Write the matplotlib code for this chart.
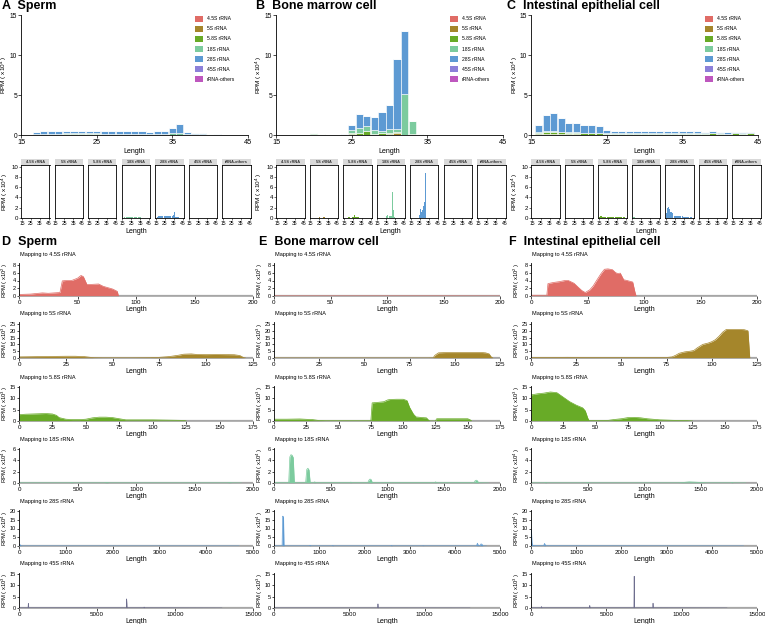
import matplotlib
matplotlib.use('Agg')
import matplotlib.pyplot as plt
from matplotlib.patches import Patch

plt.rcParams['font.family'] = ['Liberation Sans', 'DejaVu Sans']
plt.rcParams['mathtext.fontset'] = 'custom'
plt.rcParams['mathtext.rm'] = 'Liberation Sans'
plt.rcParams['mathtext.it'] = 'Liberation Sans:italic'
plt.rcParams['mathtext.bf'] = 'Liberation Sans:bold'

# ---------------- data ----------------
rna_types = ['4.5S rRNA', '5S rRNA', '5.8S rRNA', '18S rRNA', '28S rRNA', '45S rRNA', 'rRNA-others']
colors = ['#E06C66', '#A5862B', '#68AB27', '#7CCB9E', '#5D9AD3', '#8C80D9', '#BE57BE']
lengths = list(range(15, 46))
cells = ['Sperm', 'Bone marrow cell', 'Intestinal epithelial cell']

# lengths 15..45 (RPM x10^4)
sperm_4_5S = [0, 0, 0.01, 0.01, 0.01, 0.01, 0.01, 0.01, 0.01, 0.01, 0.01, 0.01, 0.01, 0.01, 0.01, 0.01, 0.01, 0.01, 0.01, 0.01, 0.01, 0.01, 0.01, 0.01, 0.01, 0.01, 0, 0, 0, 0, 0]
sperm_5S = [0, 0, 0.01, 0.01, 0.01, 0.01, 0.01, 0.01, 0.01, 0.01, 0.01, 0.01, 0.01, 0.01, 0.01, 0.01, 0.01, 0.01, 0.01, 0.01, 0.01, 0.01, 0.01, 0.01, 0.01, 0.01, 0, 0, 0, 0, 0]
sperm_5_8S = [0, 0, 0.04, 0.04, 0.04, 0.04, 0.05, 0.05, 0.05, 0.05, 0.05, 0.04, 0.04, 0.04, 0.04, 0.04, 0.04, 0.03, 0.04, 0.04, 0.04, 0.04, 0.03, 0.02, 0.02, 0.01, 0.01, 0, 0, 0, 0]
sperm_18S = [0, 0, 0.10, 0.10, 0.12, 0.12, 0.13, 0.13, 0.13, 0.13, 0.13, 0.12, 0.12, 0.11, 0.12, 0.12, 0.11, 0.07, 0.11, 0.12, 0.15, 0.20, 0.09, 0.07, 0.06, 0.04, 0.03, 0, 0, 0, 0]
sperm_28S = [0, 0, 0.25, 0.30, 0.33, 0.33, 0.36, 0.36, 0.36, 0.36, 0.36, 0.33, 0.33, 0.30, 0.33, 0.33, 0.30, 0.20, 0.30, 0.33, 0.65, 1.10, 0.22, 0.15, 0.12, 0.10, 0.06, 0, 0, 0, 0]
sperm_45S = [0] * 31
sperm_others = [0] * 31

bone_4_5S = [0] * 31
bone_5S = [0, 0, 0, 0, 0, 0.02, 0, 0, 0, 0, 0.10, 0.05, 0.05, 0, 0, 0.10, 0.20, 0, 0, 0, 0, 0, 0, 0, 0, 0, 0, 0, 0, 0, 0]
bone_5_8S = [0, 0, 0, 0, 0.05, 0.15, 0.10, 0.05, 0, 0, 0.20, 0.20, 0.50, 0.10, 0.20, 0.20, 0.20, 0, 0.10, 0, 0, 0, 0, 0, 0, 0, 0, 0, 0, 0, 0]
bone_18S = [0, 0, 0, 0, 0, 0.05, 0.05, 0, 0, 0.05, 0.30, 0.60, 0.60, 0.50, 0.30, 0.40, 0.40, 5.10, 1.60, 0.10, 0, 0, 0, 0, 0, 0, 0, 0, 0, 0, 0]
bone_28S = [0, 0, 0, 0, 0, 0.02, 0.02, 0, 0, 0.02, 0.60, 1.80, 1.20, 1.60, 2.40, 3.10, 8.70, 7.90, 0.10, 0.05, 0, 0, 0, 0, 0, 0, 0, 0, 0, 0, 0]
bone_45S = [0] * 31
bone_others = [0] * 31

int_4_5S = [0, 0.02, 0.02, 0.02, 0.02, 0.02, 0.02, 0.02, 0.02, 0.02, 0.01, 0.01, 0.01, 0.01, 0.01, 0.01, 0.01, 0.01, 0.01, 0.01, 0.01, 0.01, 0.01, 0.01, 0.01, 0.01, 0.01, 0.01, 0.01, 0.01, 0]
int_5S = [0, 0.05, 0.08, 0.08, 0.05, 0.05, 0.05, 0.04, 0.04, 0.04, 0.03, 0.03, 0.03, 0.03, 0.03, 0.03, 0.03, 0.03, 0.03, 0.03, 0.03, 0.03, 0.03, 0.03, 0.03, 0.03, 0.03, 0.03, 0.03, 0.03, 0]
int_5_8S = [0, 0.20, 0.30, 0.30, 0.25, 0.20, 0.20, 0.18, 0.18, 0.15, 0.12, 0.12, 0.12, 0.12, 0.12, 0.12, 0.12, 0.11, 0.12, 0.12, 0.12, 0.13, 0.13, 0.12, 0.15, 0.12, 0.11, 0.15, 0.13, 0.17, 0]
int_18S = [0, 0.10, 0.12, 0.12, 0.10, 0.08, 0.08, 0.06, 0.06, 0.05, 0.04, 0.04, 0.04, 0.04, 0.04, 0.04, 0.04, 0.04, 0.04, 0.04, 0.04, 0.04, 0.04, 0.04, 0.04, 0.03, 0.03, 0.03, 0.03, 0.03, 0]
int_28S = [0, 0.90, 2.00, 2.20, 1.70, 1.20, 1.20, 1.00, 0.90, 0.85, 0.40, 0.35, 0.35, 0.35, 0.32, 0.30, 0.30, 0.28, 0.30, 0.30, 0.27, 0.25, 0.25, 0.22, 0.22, 0.18, 0.15, 0.15, 0.12, 0.12, 0]
int_45S = [0] * 31
int_others = [0] * 31

sperm_series = [sperm_4_5S, sperm_5S, sperm_5_8S, sperm_18S, sperm_28S, sperm_45S, sperm_others]
bone_series = [bone_4_5S, bone_5S, bone_5_8S, bone_18S, bone_28S, bone_45S, bone_others]
int_series = [int_4_5S, int_5S, int_5_8S, int_18S, int_28S, int_45S, int_others]

# coverage along each rRNA (position, RPM)
D_45_pos = [0, 10, 20, 25, 30, 35, 37, 40, 45, 50, 53, 55, 58, 62, 68, 72, 80, 84, 85]
D_45_val = [0.4, 0.5, 0.8, 0.7, 0.8, 0.9, 3.9, 4.0, 4.0, 4.6, 5.3, 5.0, 3.0, 3.0, 3.1, 2.5, 1.8, 1.2, 0]
E_45_pos = [0, 50, 100, 150, 200]
E_45_val = [0.02, 0.02, 0.02, 0.02, 0]
F_45_pos = [0, 14, 15, 20, 25, 30, 33, 38, 42, 45, 48, 52, 55, 58, 62, 65, 68, 72, 75, 77, 79, 82, 85, 90, 92, 93]
F_45_val = [0.2, 0.2, 3.2, 3.5, 3.7, 4.0, 4.0, 3.3, 2.2, 1.4, 0.9, 1.6, 2.6, 4.0, 5.8, 6.9, 7.0, 6.8, 6.0, 5.8, 5.9, 4.2, 4.0, 3.6, 1.0, 0]

D_5S_pos = [0, 10, 20, 25, 30, 35, 40, 45, 60, 70, 75, 80, 85, 88, 92, 95, 100, 105, 110, 115, 118, 120, 121]
D_5S_val = [0.8, 1.0, 1.2, 1.3, 1.3, 1.0, 0.2, 0.1, 0.1, 0.2, 0.5, 1.0, 2.0, 2.8, 3.0, 2.6, 2.5, 2.6, 2.5, 2.4, 1.8, 0.3, 0]
E_5S_pos = [0, 85, 88, 89, 91, 95, 100, 110, 115, 117, 119, 120, 121]
E_5S_val = [0, 0, 0.1, 2.0, 3.8, 4.0, 4.0, 4.0, 4.0, 3.8, 3.0, 1.0, 0]
F_5S_pos = [0, 20, 40, 60, 75, 78, 80, 82, 85, 88, 90, 92, 95, 98, 100, 102, 104, 106, 108, 112, 116, 118, 120, 121]
F_5S_val = [0.3, 0.5, 0.3, 0.3, 0.4, 0.8, 2.0, 3.5, 4.5, 5.0, 5.5, 7.5, 10.0, 11.0, 12.0, 13.5, 16.0, 19.0, 21.0, 21.0, 21.0, 20.8, 20.0, 0]

D_58_pos = [0, 5, 10, 15, 20, 25, 28, 30, 35, 40, 45, 50, 55, 60, 65, 70, 75, 80, 90, 100, 110, 120, 124, 125]
D_58_val = [2.8, 3.0, 3.1, 3.2, 3.3, 3.1, 2.5, 1.5, 0.8, 0.6, 0.6, 0.8, 1.4, 1.7, 1.7, 1.5, 1.0, 0.5, 0.5, 0.5, 0.4, 0.3, 0.2, 0]
E_58_pos = [0, 10, 20, 30, 35, 40, 70, 75, 76, 80, 85, 88, 90, 95, 100, 103, 105, 108, 110, 115, 118, 120, 121, 125, 126, 140, 150, 152, 153]
E_58_val = [0.8, 0.8, 0.9, 0.6, 0.2, 0.1, 0.1, 0.1, 8.0, 8.2, 8.5, 9.3, 9.5, 9.6, 9.6, 9.0, 6.0, 3.0, 1.8, 1.5, 1.4, 0.2, 0, 0, 1.0, 1.0, 1.0, 0.5, 0]
F_58_pos = [0, 5, 10, 15, 20, 25, 30, 35, 40, 42, 44, 45, 50, 60, 65, 70, 75, 80, 85, 90, 100, 110, 120, 125]
F_58_val = [11.5, 12.0, 12.3, 12.8, 12.5, 10.5, 8.5, 7.0, 5.8, 4.5, 1.2, 0.2, 0.2, 0.3, 0.7, 1.0, 1.5, 1.6, 1.4, 1.0, 0.5, 0.3, 0.2, 0]

D_18_pos = [0, 430, 450, 470, 730, 750, 770, 1780, 1800, 1820, 1900]
D_18_val = [0.02, 0.02, 0.08, 0.02, 0.02, 0.10, 0.02, 0.02, 0.08, 0.02, 0]
E_18_pos = [0, 130, 140, 150, 160, 170, 180, 280, 290, 300, 310, 320, 350, 360, 370, 670, 680, 690, 830, 840, 850, 860, 870, 1420, 1430, 1440, 1770, 1780, 1790, 1800, 1810, 1900]
E_18_val = [0.05, 0.05, 4.6, 5.0, 4.9, 4.5, 0.05, 0.05, 2.4, 2.6, 2.3, 0.05, 0.05, 0.2, 0.05, 0.05, 0.15, 0.05, 0.05, 0.5, 0.7, 0.6, 0.05, 0.05, 0.2, 0.05, 0.05, 0.4, 0.5, 0.4, 0.05, 0]
F_18_pos = [0, 120, 130, 140, 490, 500, 510, 1300, 1350, 1400, 1450, 1500, 1550, 1770, 1780, 1790, 1900]
F_18_val = [0.02, 0.02, 0.10, 0.02, 0.02, 0.12, 0.02, 0.02, 0.10, 0.20, 0.15, 0.10, 0.02, 0.02, 0.12, 0.02, 0]

D_28_pos = [0, 10, 20, 40, 60, 100, 4700]
D_28_val = [0.5, 1.0, 0.8, 0.2, 0.05, 0.02, 0]
E_28_pos = [0, 180, 190, 200, 210, 220, 230, 780, 800, 820, 1280, 1300, 1320, 2580, 2600, 2620, 3280, 3300, 3320, 4480, 4500, 4520, 4560, 4580, 4600, 4620, 4700]
E_28_val = [0.05, 0.05, 17.0, 17.0, 16.5, 0.3, 0.05, 0.05, 0.4, 0.05, 0.05, 0.3, 0.05, 0.05, 0.3, 0.05, 0.05, 0.2, 0.05, 0.05, 1.6, 0.3, 0.3, 1.2, 1.0, 0.05, 0]
F_28_pos = [0, 5, 10, 20, 30, 50, 280, 300, 320, 4700]
F_28_val = [0.5, 9.0, 8.5, 2.0, 0.5, 0.2, 0.1, 1.5, 0.1, 0]

D_45S_pos = [0, 580, 600, 620, 6880, 6900, 6920, 8000, 8020, 8040, 13000]
D_45S_val = [0.1, 0.1, 2.0, 0.1, 0.1, 4.0, 0.1, 0.1, 0.4, 0.1, 0]
E_45S_pos = [0, 6880, 6900, 6920, 13000]
E_45S_val = [0.05, 0.05, 1.8, 0.05, 0]
F_45S_pos = [0, 680, 700, 720, 3880, 3900, 3920, 6830, 6850, 6870, 8080, 8100, 8120, 13000]
F_45S_val = [0.1, 0.1, 0.6, 0.1, 0.1, 1.1, 0.1, 0.1, 14.0, 0.1, 0.1, 2.1, 0.1, 0]

row_names = ['Mapping to 4.5S rRNA', 'Mapping to 5S rRNA', 'Mapping to 5.8S rRNA',
             'Mapping to 18S rRNA', 'Mapping to 28S rRNA', 'Mapping to 45S rRNA']
row_units = ['2', '3', '3', '4', '4', '3']
row_xmax = [200, 125, 175, 2000, 5000, 15000]
row_xticks = [[0, 50, 100, 150, 200], [0, 25, 50, 75, 100, 125], [0, 25, 50, 75, 100, 125, 150, 175],
              [0, 500, 1000, 1500, 2000], [0, 1000, 2000, 3000, 4000, 5000], [0, 5000, 10000, 15000]]
row_ymax = [8, 25, 15, 6, 20, 15]
row_yticks = [[0, 2, 4, 6, 8], [0, 5, 10, 15, 20, 25], [0, 5, 10, 15], [0, 2, 4, 6], [0, 5, 10, 15, 20], [0, 5, 10, 15]]
row_colors = ['#E06C66', '#A5862B', '#68AB27', '#7CCB9E', '#5D9AD3', '#6E6E8E']

cov_D = [(D_45_pos, D_45_val), (D_5S_pos, D_5S_val), (D_58_pos, D_58_val), (D_18_pos, D_18_val), (D_28_pos, D_28_val), (D_45S_pos, D_45S_val)]
cov_E = [(E_45_pos, E_45_val), (E_5S_pos, E_5S_val), (E_58_pos, E_58_val), (E_18_pos, E_18_val), (E_28_pos, E_28_val), (E_45S_pos, E_45S_val)]
cov_F = [(F_45_pos, F_45_val), (F_5S_pos, F_5S_val), (F_58_pos, F_58_val), (F_18_pos, F_18_val), (F_28_pos, F_28_val), (F_45S_pos, F_45S_val)]

# ---------------- layout ----------------
W, H = 765, 624
fig = plt.figure(figsize=(W / 100, H / 100), dpi=100)


def px_axes(l, t, r, b):
    return fig.add_axes([l / W, 1 - b / H, (r - l) / W, (b - t) / H])


def style(ax, fx=5.0, fy=5.0, ylen=2):
    for s in ['top', 'right']:
        ax.spines[s].set_visible(False)
    for s in ['left', 'bottom']:
        ax.spines[s].set_linewidth(0.6)
    ax.tick_params(length=2, width=0.5, pad=1)
    ax.tick_params(axis='x', labelsize=fx)
    ax.tick_params(axis='y', labelsize=fy, pad=0.8, length=ylen)


def ylabel_px(ax, text, offset_px, width_px, fs):
    ax.set_ylabel(text, fontsize=fs)
    ax.yaxis.set_label_coords(-offset_px / width_px, 0.5)


main_left = [21, 276, 531]
main_right = [248, 503, 758]
title_x = [2, 256, 507]
letters_top = ['A', 'B', 'C']
letters_bot = ['D', 'E', 'F']
series_all = [sperm_series, bone_series, int_series]

for c in range(3):
    # ---- main stacked bar chart ----
    ax = px_axes(main_left[c], 15, main_right[c], 135)
    bottom = [0.0] * len(lengths)
    for k in range(7):
        ax.bar(lengths, series_all[c][k], bottom=bottom, width=0.95, color=colors[k],
               edgecolor='white', linewidth=0.4)
        bottom = [b + v for b, v in zip(bottom, series_all[c][k])]
    ax.set_xlim(15, 45)
    ax.set_ylim(0, 15)
    ax.set_xticks([15, 25, 35, 45])
    ax.set_yticks([0, 5, 10, 15])
    style(ax, 5.2, 4.8)
    ax.set_xlabel('Length', fontsize=5, labelpad=1)
    ylabel_px(ax, r'RPM ( x10$^{4}$ )', 11.5, main_right[c] - main_left[c], 4.6)
    handles = [Patch(facecolor=colors[k], edgecolor='none', label=rna_types[k]) for k in range(7)]
    ax.legend(handles=handles, loc='upper left', bbox_to_anchor=(0.766, 0.995), frameon=False,
              fontsize=3.6, handlelength=1.6, handleheight=1.6, labelspacing=0.72,
              handletextpad=0.8, borderpad=0, borderaxespad=0)
    fig.text(title_x[c] / W, 1 - 6 / H, f'{letters_top[c]}  {cells[c]}', fontsize=9,
             fontweight='bold', va='center', ha='left')

    # ---- facets ----
    for k in range(7):
        l = main_left[c] + k * 33.5
        r = l + 28.5
        fa = px_axes(l, 165, r, 218)
        fa.bar(lengths, series_all[c][k], width=0.9, color=colors[k], linewidth=0)
        fa.set_xlim(14, 46)
        fa.set_ylim(0, 10.3)
        fa.set_xticks([15, 25, 35, 45])
        fa.set_yticks([0, 2, 4, 6, 8, 10])
        for s in fa.spines.values():
            s.set_linewidth(0.6)
        fa.tick_params(length=1.5, width=0.4, labelsize=3.6, pad=0.8)
        fa.tick_params(axis='y', labelsize=4.4, pad=0.6)
        if k > 0:
            fa.set_yticklabels([])
            fa.tick_params(axis='y', length=0)
        else:
            ylabel_px(fa, r'RPM ( x10$^{4}$ )', 11.5, 28.5, 4.6)
        if k == 3:
            fa.set_xlabel('Length', fontsize=5, labelpad=1)
        st = px_axes(l, 158.5, r, 164.5)
        st.set_facecolor('#D9D9D9')
        st.set_xticks([])
        st.set_yticks([])
        for s in st.spines.values():
            s.set_visible(False)
        st.text(0.5, 0.5, rna_types[k], fontsize=2.8, ha='center', va='center',
                transform=st.transAxes, fontweight='bold', color='#333333')

# ---------------- coverage rows ----------------
bot_left = [19, 274, 531]
bot_right = [253, 500, 757]
row_top = [265, 324, 387, 449, 511, 574]
row_bot = [296, 358, 421, 483, 546, 608]
covs = [cov_D, cov_E, cov_F]
title2_x = [2, 259, 509]

for c in range(3):
    fig.text(title2_x[c] / W, 1 - 242 / H, f'{letters_bot[c]}  {cells[c]}', fontsize=9,
             fontweight='bold', va='center', ha='left')
    for r in range(6):
        ax = px_axes(bot_left[c], row_top[r] - 1.5, bot_right[c], row_bot[r])
        pos, val = covs[c][r]
        ax.axhline(0, color='#A6A6A6', lw=1.6, zorder=1)
        ax.fill_between(pos, val, 0, color=row_colors[r], linewidth=0, zorder=2)
        ax.plot(pos, val, color=row_colors[r], lw=0.5, zorder=2)
        ax.set_xlim(0, row_xmax[r])
        ymax = row_ymax[r]
        ax.set_ylim(0, ymax * (1 + 1.5 / (row_bot[r] - row_top[r])))
        ax.set_xticks(row_xticks[r])
        ax.set_yticks(row_yticks[r])
        style(ax, 4.5, 4.1, 1.5)
        ax.spines['bottom'].set_color('#A6A6A6')
        ax.set_xlabel('Length', fontsize=5, labelpad=0.5)
        ylabel_px(ax, r'RPM ( x10$^{%s}$ )' % row_units[r], 9, bot_right[c] - bot_left[c], 4.2)
        ax.text(0.003, 1.0 + 8.5 / (row_bot[r] - row_top[r] + 1.5), row_names[r],
                transform=ax.transAxes, fontsize=4, ha='left', va='center')

fig.savefig('out.png', dpi=100)
